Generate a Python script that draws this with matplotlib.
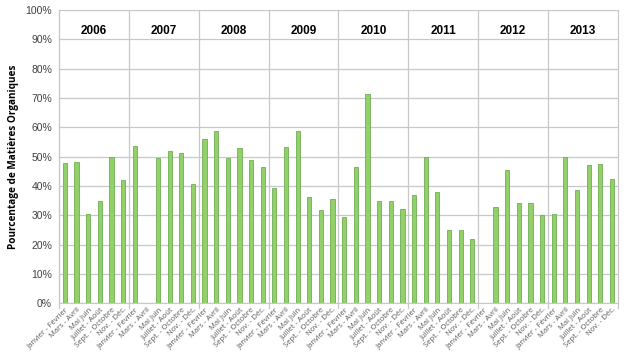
import numpy as np
import matplotlib
matplotlib.use("Agg")
import matplotlib.pyplot as plt
from matplotlib.ticker import FuncFormatter, MultipleLocator

years = ["2006", "2007", "2008", "2009", "2010", "2011", "2012", "2013"]
periods = ["Janvier - Février", "Mars - Avril", "Mai Juin", "Juillet - Août",
           "Sept. - Octobre", "Nov. - Déc."]

# Pourcentage de matières organiques par période (NaN = pas de mesure)
mo_2006 = [48.0, 48.2, 30.4, 34.9, 49.9, 42.0]
mo_2007 = [53.7, np.nan, 49.5, 51.9, 51.4, 40.6]
mo_2008 = [56.0, 58.9, 49.6, 52.8, 48.8, 46.3]
mo_2009 = [39.2, 53.3, 58.6, 36.4, 31.7, 35.5]
mo_2010 = [29.3, 46.3, 71.2, 34.9, 34.9, 32.3]
mo_2011 = [37.0, 50.0, 38.0, 25.0, 25.0, 22.0]
mo_2012 = [np.nan, 32.9, 45.4, 34.1, 34.1, 30.1]
mo_2013 = [30.3, 49.9, 38.7, 47.1, 47.6, 42.5]

values = np.array(mo_2006 + mo_2007 + mo_2008 + mo_2009 +
                  mo_2010 + mo_2011 + mo_2012 + mo_2013)
labels = periods * len(years)
n = len(values)
x = np.arange(n)

fig = plt.figure(figsize=(6.24, 3.56), dpi=100)
ax = fig.add_axes([0.0946, 0.148, 0.8954, 0.824])

grid_col = "#c8c8c8"
ax.set_ylim(0, 100)
ax.set_xlim(-0.5, n - 0.5)
ax.yaxis.set_major_locator(MultipleLocator(10))
ax.yaxis.set_major_formatter(FuncFormatter(lambda v, p: f"{v:.0f}%"))
ax.grid(axis="y", color=grid_col, linewidth=0.9)
ax.set_axisbelow(True)

ax.bar(x, np.nan_to_num(values), width=0.36, color="#92d06a",
       edgecolor="#6fae55", linewidth=0.6, zorder=3)

# séparateurs d'années
for i in range(len(years) + 1):
    xb = i * 6 - 0.5
    ax.plot([xb, xb], [-1.7, 100], color=grid_col, linewidth=0.9,
            clip_on=False, zorder=2)
for i, yr in enumerate(years):
    ax.text(i * 6 + 2.5, 93, yr, ha="center", va="center",
            fontsize=8.5, fontweight="bold", family="Liberation Sans", zorder=4)

for s in ["top", "right"]:
    ax.spines[s].set_visible(False)
ax.spines["left"].set_color(grid_col)
ax.spines["bottom"].set_color(grid_col)
ax.tick_params(axis="y", length=0, labelsize=7.5, labelcolor="#404040", pad=5)
ax.tick_params(axis="x", length=0, pad=2)

ax.set_xticks(x)
ax.set_xticklabels(labels, rotation=45, ha="right", va="top",
                   rotation_mode="anchor", fontsize=5.5, color="#595959",
                   family="Open Sans")
for t in ax.get_yticklabels():
    t.set_family("Liberation Sans")

ax.set_ylabel("Pourcentage de Matières Organiques", fontsize=7.2,
              fontweight="bold", family="Open Sans", labelpad=5)

fig.savefig("out.png", dpi=100)
